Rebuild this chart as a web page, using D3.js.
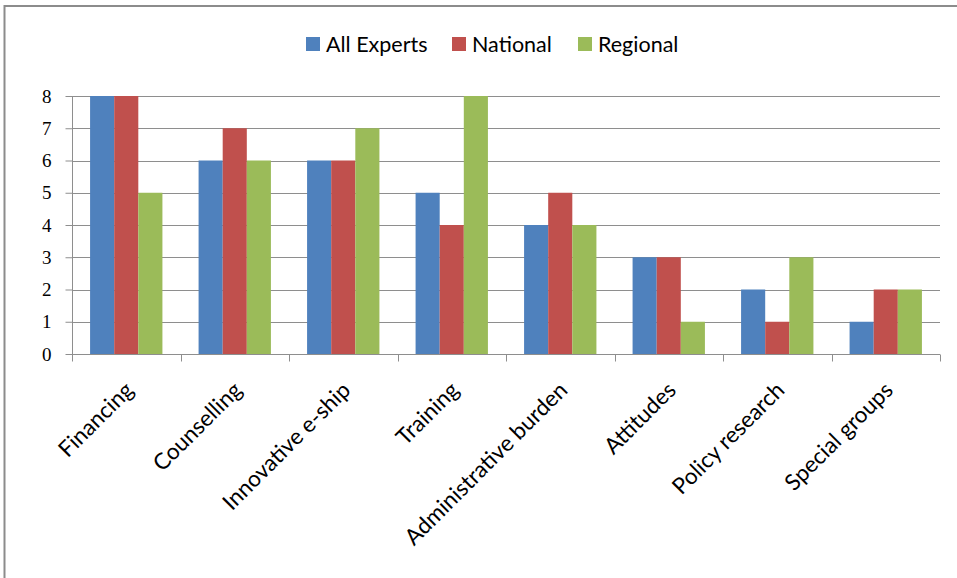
<!DOCTYPE html>
<html>
<head>
<meta charset="utf-8">
<script src="https://cdn.jsdelivr.net/npm/d3@7"></script>
<style>
  html, body { margin: 0; padding: 0; background: #fff; }
  svg { display: block; }
</style>
</head>
<body>
<svg id="chart" width="957" height="578"></svg>
<script>
const categories = ["Financing", "Counselling", "Innovative e-ship", "Training",
  "Administrative burden", "Attitudes", "Policy research", "Special groups"];
const seriesNames = ["All Experts", "National", "Regional"];
const allExperts = [8, 6, 6, 5, 4, 3, 2, 1];
const national   = [8, 7, 6, 4, 5, 3, 1, 2];
const regional   = [5, 6, 7, 8, 4, 1, 3, 2];
const yTicks = [0, 1, 2, 3, 4, 5, 6, 7, 8];
const colors = ["#4F81BD", "#C0504D", "#9BBB59"];

const seriesValues = [allExperts, national, regional];
const data = categories.map((c, i) => ({
  category: c,
  values: seriesNames.map((s, j) => ({ series: s, value: seriesValues[j][i] }))
}));

const svg = d3.select("#chart");

// outer frame (Excel chart area border)
svg.append("rect")
  .attr("x", 4.5).attr("y", 6).attr("width", 980).attr("height", 620)
  .attr("fill", "none").attr("stroke", "#8c8c8c").attr("stroke-width", 2);

const plot = { left: 72, right: 940, top: 96, bottom: 354 };

const x = d3.scaleBand().domain(categories).range([plot.left, plot.right]).paddingInner(0).paddingOuter(0);
const bw = x.bandwidth();
const x1 = d3.scaleBand().domain(seriesNames).range([0, bw]).paddingInner(0).paddingOuter(0.75);
const y = d3.scaleLinear().domain([0, 8]).range([plot.bottom, plot.top]);

// gridlines
svg.append("g")
  .selectAll("line").data(yTicks.filter(d => d > 0)).join("line")
  .attr("x1", plot.left).attr("x2", plot.right)
  .attr("y1", d => Math.round(y(d)) + 0.5).attr("y2", d => Math.round(y(d)) + 0.5)
  .attr("stroke", "#8e8e8e").attr("stroke-width", 1);

// bars
const groups = svg.append("g").selectAll("g").data(data).join("g")
  .attr("transform", d => `translate(${x(d.category)},0)`);
groups.selectAll("rect").data(d => d.values).join("rect")
  .attr("x", d => x1(d.series))
  .attr("width", x1.bandwidth())
  .attr("y", d => y(d.value))
  .attr("height", d => y(0) - y(d.value))
  .attr("fill", (d, i) => colors[i]);

// y axis
const yAxis = svg.append("g")
  .attr("transform", `translate(${plot.left + 0.5},0)`)
  .call(d3.axisLeft(y).tickValues(yTicks).tickFormat(d3.format("d")).tickSize(7).tickPadding(14));
yAxis.select(".domain").attr("stroke", "#8e8e8e").attr("d", `M0,${plot.top}V${plot.bottom}`);
yAxis.selectAll(".tick line").attr("stroke", "#8e8e8e");
yAxis.selectAll(".tick text")
  .attr("font-family", "'Liberation Serif', serif")
  .attr("font-size", 19)
  .attr("fill", "#000");

// x axis
const xAxis = svg.append("g")
  .attr("transform", `translate(0,${plot.bottom + 0.5})`)
  .call(d3.axisBottom(x).tickSize(0).tickFormat(""));
xAxis.select(".domain").attr("stroke", "#8e8e8e").attr("d", `M${plot.left},0H${plot.right}`);
xAxis.selectAll(".tick").remove();
// category tick marks at band boundaries
const boundaries = categories.map(c => x(c)).concat([x(categories[categories.length - 1]) + bw]);
xAxis.selectAll("line.bt").data(boundaries).join("line")
  .attr("class", "bt")
  .attr("x1", d => Math.round(d) + 0.5).attr("x2", d => Math.round(d) + 0.5)
  .attr("y1", 0).attr("y2", 7)
  .attr("stroke", "#8e8e8e");

// category labels
svg.append("g").selectAll("text").data(categories).join("text")
  .attr("transform", d => `translate(${x(d) + bw / 2 + 3},${plot.bottom + 32}) rotate(-45)`)
  .attr("text-anchor", "end")
  .attr("dy", "0.35em")
  .attr("font-family", "Lato, 'Open Sans', sans-serif")
  .attr("font-size", 22.5)
  .attr("fill", "#000")
  .text(d => d);

// legend
const legendItems = [
  { name: seriesNames[0], x: 306 },
  { name: seriesNames[1], x: 452 },
  { name: seriesNames[2], x: 578 }
];
const lg = svg.append("g").selectAll("g").data(legendItems).join("g")
  .attr("transform", d => `translate(${d.x},37)`);
lg.append("rect").attr("width", 14).attr("height", 14)
  .attr("fill", (d, i) => colors[i]);
lg.append("text").attr("x", 20).attr("y", 15)
  .attr("font-family", "Lato, 'Open Sans', sans-serif")
  .attr("font-size", 21.5)
  .attr("fill", "#000")
  .text(d => d.name);
</script>
</body>
</html>
